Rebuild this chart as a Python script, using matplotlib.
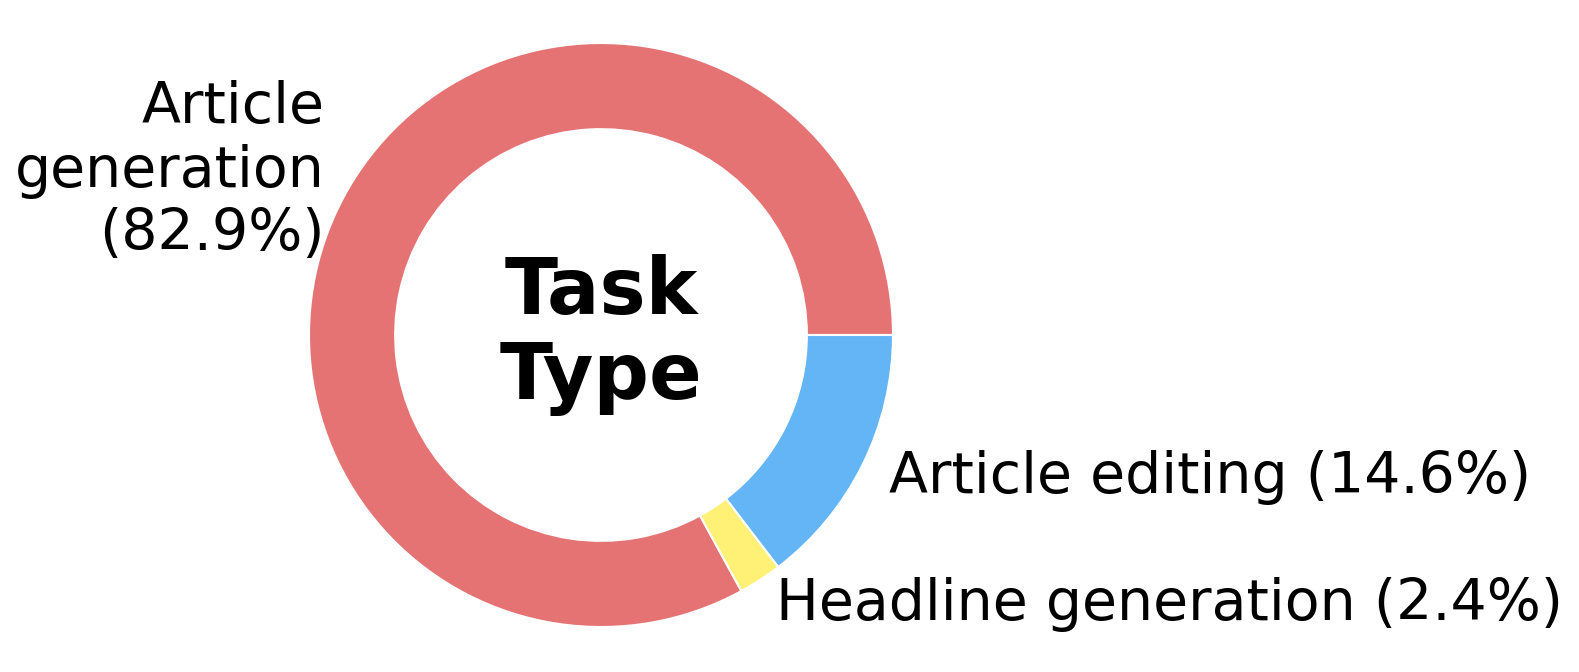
import matplotlib
matplotlib.use('Agg')
import matplotlib.pyplot as plt

# data
labels = ['Article generation', 'Headline generation', 'Article editing']
shares = [82.9, 2.4, 14.6]
colors = ['#E57373', '#FFF176', '#64B5F6']

label_texts = ['Article\ngeneration\n(82.9%)' if l == 'Article generation' else f'{l} ({s}%)'
               for l, s in zip(labels, shares)]

fig = plt.figure(figsize=(15.79, 6.72), dpi=100)
ax = fig.add_axes([0, 0, 1, 1])

wedges, texts = ax.pie(shares, labels=label_texts, colors=colors, startangle=0,
                       counterclock=True, labeldistance=1.1,
                       wedgeprops=dict(width=0.295, edgecolor='white', linewidth=1.5),
                       textprops=dict(fontsize=41))

ax.text(0, 0, 'Task\nType', ha='center', va='center', fontsize=56,
        fontweight='bold', linespacing=1.15)

# place the ring: centre at (601, 335) px, radius 292 px
r = 292.0
ax.set_xlim(-601 / r, (1579 - 601) / r)
ax.set_ylim(-(672 - 335) / r, 335 / r)
ax.set_aspect('auto')
ax.axis('off')

fig.savefig('out.png', dpi=100)
